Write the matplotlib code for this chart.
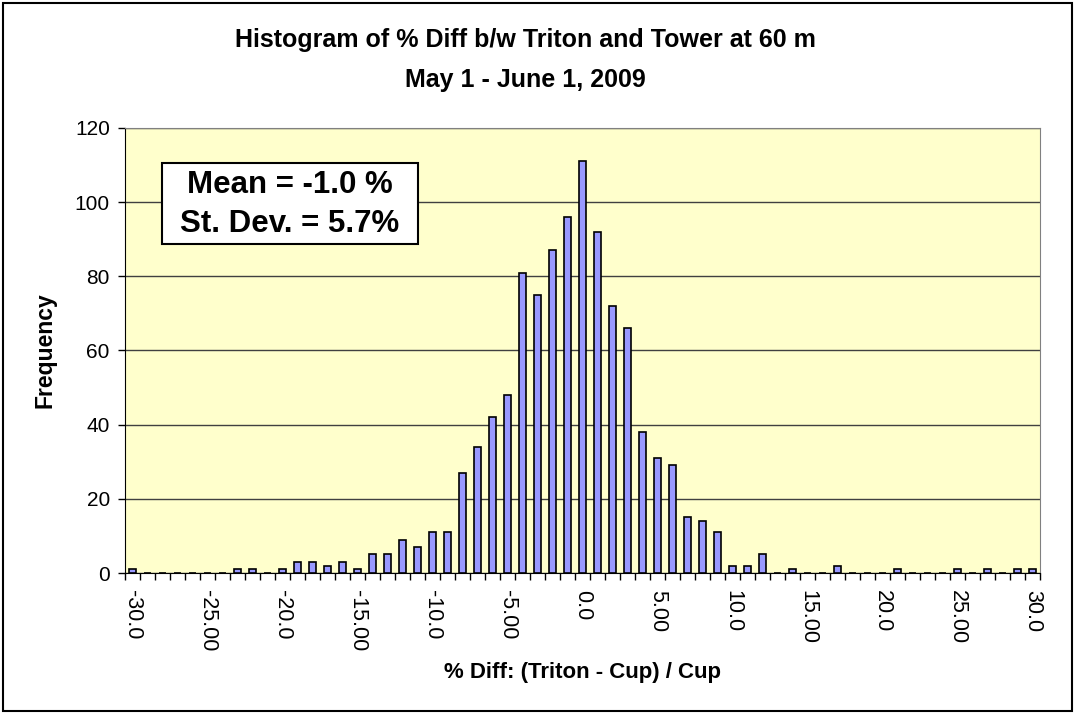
import matplotlib
matplotlib.use("Agg")
import matplotlib.pyplot as plt
from matplotlib.patches import Rectangle

plt.rcParams['font.family'] = ['Liberation Sans', 'DejaVu Sans']

# --- Data ---
bins = list(range(-30, 31))
counts = [1, 0, 0, 0, 0, 0, 0, 1, 1, 0,      # -30 .. -21
          1, 3, 3, 2, 3, 1, 5, 5, 9, 7,      # -20 .. -11
          11, 11, 27, 34, 42, 48, 81, 75, 87, 96,   # -10 .. -1
          111, 92, 72, 66, 38, 31, 29, 15, 14, 11,  # 0 .. 9
          2, 2, 5, 0, 1, 0, 0, 2, 0, 0,      # 10 .. 19
          0, 1, 0, 0, 0, 1, 0, 1, 0, 1,      # 20 .. 29
          1]                                  # 30
tick_labels = ["-30.0", "-25.00", "-20.0", "-15.00", "-10.0", "-5.00", "0.0",
               "5.00", "10.0", "15.00", "20.0", "25.00", "30.0"]
y_ticks = [0, 20, 40, 60, 80, 100, 120]

# --- Plot ---
fig = plt.figure(figsize=(10.76, 7.15), dpi=100)
ax = fig.add_axes([0.1162, 0.1986, 0.8503, 0.6224])
ax.set_facecolor('#FFFFCC')

pos = list(range(len(bins)))
ax.bar(pos, counts, width=0.5, color='#9999FF', edgecolor='black', linewidth=1.2, zorder=3)

ax.set_xlim(-0.5, len(bins) - 0.5)
ax.set_ylim(0, 120)
ax.set_yticks(y_ticks)
ax.yaxis.grid(True, color='#404040', linewidth=1.0, zorder=0)

ax.set_xticks(pos[::5])
ax.set_xticklabels(tick_labels, rotation=-90, va='top', ha='center')
ax.set_xticks([p - 0.5 for p in pos] + [pos[-1] + 0.5], minor=True)
ax.tick_params(axis='x', which='major', length=0, pad=12, labelsize=15.5)
ax.tick_params(axis='x', which='minor', length=5, width=1, direction='out')
ax.tick_params(axis='y', length=5, width=1, pad=6, labelsize=15)

for s in ['top', 'right']:
    ax.spines[s].set_color('#808080')
for s in ['left', 'bottom']:
    ax.spines[s].set_color('black')

ax.set_ylabel("Frequency", fontsize=16.5, fontweight='bold')
ax.yaxis.set_label_coords(-0.075, 0.5)
ax.set_xlabel("% Diff: (Triton - Cup) / Cup", fontsize=16, fontweight='bold', va='top')
ax.xaxis.set_label_coords(0.5, -0.2)

fig.text(0.488, 0.934, "Histogram of % Diff b/w Triton and Tower at 60 m",
         ha='center', va='baseline', fontsize=18, fontweight='bold')
fig.text(0.488, 0.878, "May 1 - June 1, 2009",
         ha='center', va='baseline', fontsize=18, fontweight='bold')

# stats box
ax.add_patch(Rectangle((0.0404, 0.739), 0.2796, 0.182, transform=ax.transAxes,
                       facecolor='white', edgecolor='black', linewidth=1.5, zorder=5))
ax.text(0.180, 0.872, "Mean = -1.0 %", transform=ax.transAxes, ha='center', va='center',
        fontsize=22.5, fontweight='bold', zorder=6)
ax.text(0.180, 0.785, "St. Dev. = 5.7%", transform=ax.transAxes, ha='center', va='center',
        fontsize=22.5, fontweight='bold', zorder=6)

# chart border
fig.add_artist(Rectangle((0.003, 0.005), 0.993, 0.991, transform=fig.transFigure,
                         fill=False, edgecolor='black', linewidth=1.5))

plt.savefig("out.png", dpi=100)
